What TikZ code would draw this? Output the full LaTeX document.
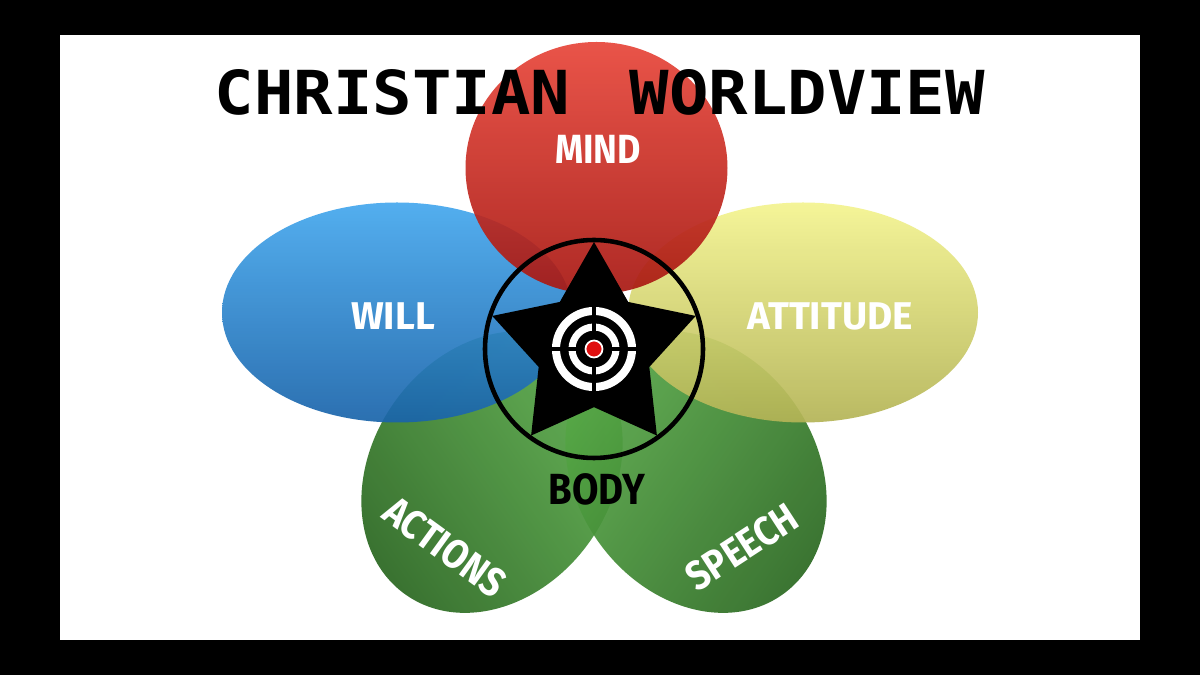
\documentclass[tikz,border=0pt]{standalone}
\usepackage{fontspec}
\setmainfont{Fira Sans}
\newfontfamily\titlefont{DejaVu Sans Mono}
\newfontfamily\lblfont{Fira Sans}[FakeStretch=0.88]
\usetikzlibrary{shapes.geometric}

\definecolor{blueTop}{HTML}{45A8EE}
\definecolor{blueBot}{HTML}{1A64AA}
\definecolor{yellowTop}{HTML}{F4F490}
\definecolor{yellowBot}{HTML}{B4B456}
\definecolor{redTop}{HTML}{E8463A}
\definecolor{redBot}{HTML}{A81812}
\definecolor{greenTop}{HTML}{58AA48}
\definecolor{greenBot}{HTML}{2A6820}
\definecolor{dotRed}{HTML}{E01010}

\begin{document}
\begin{tikzpicture}[
  petal/.style={fill opacity=0.92},
  lbl/.style={text=white, font=\lblfont\bfseries\fontsize{11.6}{13}\selectfont},
  widelbl/.style={text=white, font=\bfseries\fontsize{11}{13}\selectfont},
]
  \fill[black] (0,0) rectangle (12,6.75);                      % frame
  \fill[white] (0.6,0.35) rectangle (11.4,6.40);               % slide

  % green petals at the bottom
  \shade[petal, rotate around={55:(4.92,2.03)}, top color=greenTop, bottom color=greenBot, shading angle=-55]
     (4.92,2.03) ellipse (1.5 and 1.2);                        % actions petal
  \shade[petal, rotate around={-55:(6.96,2.03)}, top color=greenTop, bottom color=greenBot, shading angle=55]
     (6.96,2.03) ellipse (1.5 and 1.2);                        % speech petal

  % side petals
  \shade[petal, top color=blueTop, bottom color=blueBot] (3.97,3.625) ellipse (1.75 and 1.1);     % will
  \shade[petal, top color=yellowTop, bottom color=yellowBot] (8.03,3.625) ellipse (1.75 and 1.1); % attitude

  % top petal
  \shade[petal, top color=redTop, bottom color=redBot] (5.965,5.07) ellipse (1.31 and 1.26);      % mind

  \node[font=\titlefont\bfseries] (title) at (6.0,5.83)
     {\resizebox{7.7cm}{0.45cm}{CHRISTIAN\kern0.3em\ WORLDVIEW}};  % heading

  % ring, star and target
  \draw[line width=1.3pt] (5.94,3.26) circle (1.09);
  \node[star, star points=5, star point ratio=1.84, minimum size=2.14cm, inner sep=0pt, fill=black] (star) at (5.94,3.26) {};
  \draw[white, line width=2.3pt] (star.center) circle (0.38);  % outer ring
  \draw[white, line width=2pt] (star.center) circle (0.22);    % inner ring
  \foreach \a in {0,90,180,270}
     \draw[black, line width=0.9pt] (star.center) ++(\a:0.13) -- ++(\a:0.32);  % cross gaps
  \fill[dotRed, draw=white, line width=0.5pt] (star.center) circle (0.085);    % bullseye

  % labels
  \node[lbl] (mind) at (5.98,5.26) {MIND};
  \node[widelbl] (will) at (3.93,3.59) {WILL};
  \node[widelbl] (attitude) at (8.30,3.59) {ATTITUDE};
  \node[lbl, text=black, font=\lblfont\bfseries\fontsize{12.4}{14}\selectfont] (body) at (5.97,1.86) {BODY};
  \node[lbl, rotate=-36] (actions) at (4.45,1.28) {ACTIONS};
  \node[lbl, rotate=33] (speech) at (7.42,1.28) {SPEECH};
\end{tikzpicture}
\end{document}
